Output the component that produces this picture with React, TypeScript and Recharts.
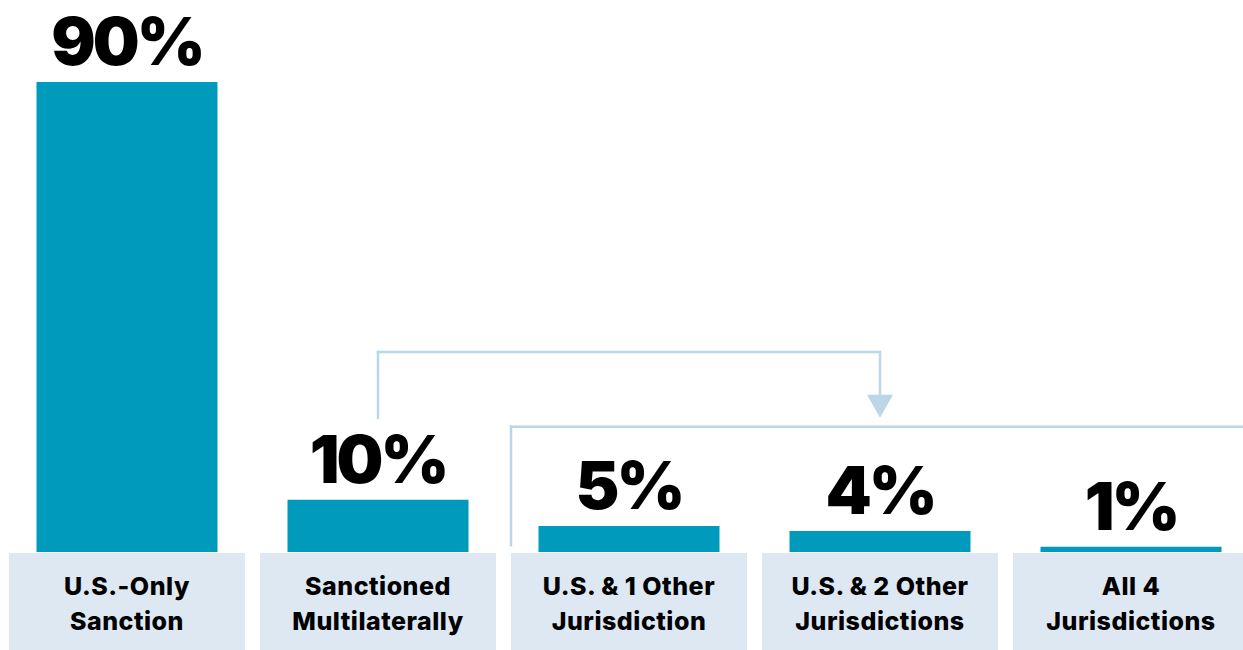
import React from 'react';
import { BarChart, Bar, XAxis, YAxis, LabelList, ReferenceLine } from 'recharts';

const categories = [
  'U.S.-Only Sanction',
  'Sanctioned Multilaterally',
  'U.S. & 1 Other Jurisdiction',
  'U.S. & 2 Other Jurisdictions',
  'All 4 Jurisdictions',
];
const labelLine1 = ['U.S.-Only', 'Sanctioned', 'U.S. & 1 Other', 'U.S. & 2 Other', 'All 4'];
const labelLine2 = ['Sanction', 'Multilaterally', 'Jurisdiction', 'Jurisdictions', 'Jurisdictions'];
const shares = [90, 10, 5, 4, 1];

// connector levels, in value units (%)
const bracketTop = 38.3;
const bracketStart = 25.7;
const arrowBase = 30.1;
const arrowTip = 25.7;
const groupLine = 24.0;
const groupLineBottom = 1.3;

const data = categories.map((c, i) => ({ name: c, value: shares[i] }));

const BAR_COLOR = '#009abd';
const BOX_COLOR = '#dde8f2';
const LINE_COLOR = '#bad6e8';
const FONT = 'Inter, "Noto Sans", sans-serif';
const BOX_W = 236;
const BOX_GAP = 15;
const LW = 2.5;

const Tick = (props: any) => {
  const { x, y, index } = props;
  return (
    <g>
      <rect x={x - BOX_W / 2} y={y + 1} width={BOX_W} height={100} fill={BOX_COLOR} />
      <text x={x} y={y + 43} textAnchor="middle" fontFamily={FONT} fontWeight={800} fontSize={25} letterSpacing={0.5} fill="#000">
        {labelLine1[index]}
      </text>
      <text x={x} y={y + 78} textAnchor="middle" fontFamily={FONT} fontWeight={800} fontSize={25} letterSpacing={0.5} fill="#000">
        {labelLine2[index]}
      </text>
    </g>
  );
};

const ValueLabel = (props: any) => {
  const { x, y, width, value } = props;
  return (
    <text x={x + width / 2} y={y - 17} textAnchor="middle" fontFamily={FONT} fontWeight={900} fontSize={66} letterSpacing={-3} fill="#000">
      {value}%
    </text>
  );
};

const seg = (p: any) => (
  <line x1={p.x1} y1={p.y1} x2={p.x2} y2={p.y2} stroke={LINE_COLOR} strokeWidth={LW} strokeLinecap="square" />
);

const arrow = (p: any) => (
  <polygon
    points={`${p.x1 - 13},${p.y1} ${p.x1 + 13},${p.y1} ${p.x2},${p.y2}`}
    fill={LINE_COLOR}
  />
);

const groupV = (p: any) => (
  <line x1={p.x1 + BOX_GAP / 2} y1={p.y1} x2={p.x2 + BOX_GAP / 2} y2={p.y2} stroke={LINE_COLOR} strokeWidth={LW} strokeLinecap="square" />
);

const groupH = (p: any) => (
  <line x1={p.x1 + BOX_GAP / 2} y1={p.y1} x2={p.x2 + (p.x2 - p.x1) / 2} y2={p.y2} stroke={LINE_COLOR} strokeWidth={LW} strokeLinecap="square" />
);

export default function App() {
  return (
    <div style={{ position: 'absolute', left: 0, top: 0, width: 1243, height: 650, overflow: 'hidden', background: '#fff' }}>
      <BarChart width={1260} height={650} data={data} margin={{ top: 82, right: 3.5, left: 1.5, bottom: 0 }}>
        <XAxis dataKey="name" height={98} axisLine={false} tickLine={false} tickSize={0} tickMargin={0} tick={<Tick />} interval={0} />
        <YAxis hide domain={[0, 90]} />
        <ReferenceLine segment={[{ x: categories[1], y: bracketStart }, { x: categories[1], y: bracketTop }]} shape={seg} ifOverflow="visible" />
        <ReferenceLine segment={[{ x: categories[1], y: bracketTop }, { x: categories[3], y: bracketTop }]} shape={seg} ifOverflow="visible" />
        <ReferenceLine segment={[{ x: categories[3], y: bracketTop }, { x: categories[3], y: arrowBase }]} shape={seg} ifOverflow="visible" />
        <ReferenceLine segment={[{ x: categories[3], y: arrowBase }, { x: categories[3], y: arrowTip }]} shape={arrow} ifOverflow="visible" />
        <ReferenceLine position="start" segment={[{ x: categories[2], y: groupLineBottom }, { x: categories[2], y: groupLine }]} shape={groupV} ifOverflow="visible" />
        <ReferenceLine position="start" segment={[{ x: categories[2], y: groupLine }, { x: categories[4], y: groupLine }]} shape={groupH} ifOverflow="visible" />
        <Bar dataKey="value" fill={BAR_COLOR} barSize={181} isAnimationActive={false}>
          <LabelList dataKey="value" content={<ValueLabel />} />
        </Bar>
      </BarChart>
    </div>
  );
}
